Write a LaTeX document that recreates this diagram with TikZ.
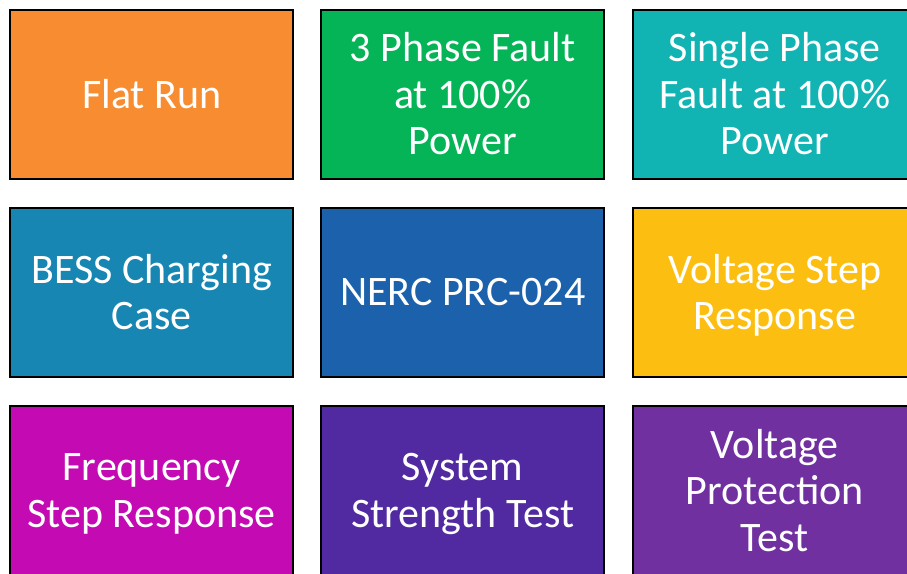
\documentclass[tikz,border=0pt]{standalone}
\usepackage{fontspec}
\setmainfont{Carlito}
\definecolor{cOrange}{HTML}{F88C30}
\definecolor{cGreen}{HTML}{05B456}
\definecolor{cTeal}{HTML}{12B3B3}
\definecolor{cBess}{HTML}{1786B3}
\definecolor{cNerc}{HTML}{1B61AB}
\definecolor{cYellow}{HTML}{FCBF11}
\definecolor{cMagenta}{HTML}{C40AB2}
\definecolor{cPurpleA}{HTML}{5129A0}
\definecolor{cPurpleB}{HTML}{7030A0}
\begin{document}
\begin{tikzpicture}[x=1pt,y=-1pt,
  tile/.style={draw=black, line width=2pt, minimum width=283pt, minimum height=169pt,
    inner sep=0pt, outer sep=0pt},
  label/.style={text=white, align=center, inner sep=0pt,
    font=\fontsize{42}{46.5}\selectfont}]
\useasboundingbox (0,0) rectangle (907,573);
% tiles
\node[tile, fill=cOrange]  (t1) at (151.7,94)  {};
\node[tile, fill=cGreen]   (t2) at (462.7,94)  {};
\node[tile, fill=cTeal]    (t3) at (774.8,94)  {};
\node[tile, fill=cBess]    (t4) at (151.7,292) {};
\node[tile, fill=cNerc]    (t5) at (462.7,292) {};
\node[tile, fill=cYellow]  (t6) at (774.8,292) {};
\node[tile, fill=cMagenta] (t7) at (151.7,490.5) {};
\node[tile, fill=cPurpleA] (t8) at (462.7,490.5) {};
\node[tile, fill=cPurpleB] (t9) at (774.8,490.5) {};
% labels
\node[label] (l1) at (t1.center) {Flat Run};
\node[label] (l2) at (t2.center) {3 Phase Fault\\at 100\%\\Power};
\node[label] (l3) at (t3.center) {Single Phase\\Fault at 100\%\\Power};
\node[label] (l4) at (t4.center) {BESS Charging\\Case};
\node[label] (l5) at (t5.center) {NERC PRC-024};
\node[label] (l6) at ([yshift=-3.5pt]t6.center) {Voltage Step\\Response};
\node[label] (l7) at ([yshift=-3.5pt]t7.center) {Frequency\\Step Response};
\node[label] (l8) at ([yshift=-3.5pt]t8.center) {System\\Strength Test};
\node[label] (l9) at (t9.center) {Voltage\\Protection\\Test};
\end{tikzpicture}
\end{document}
